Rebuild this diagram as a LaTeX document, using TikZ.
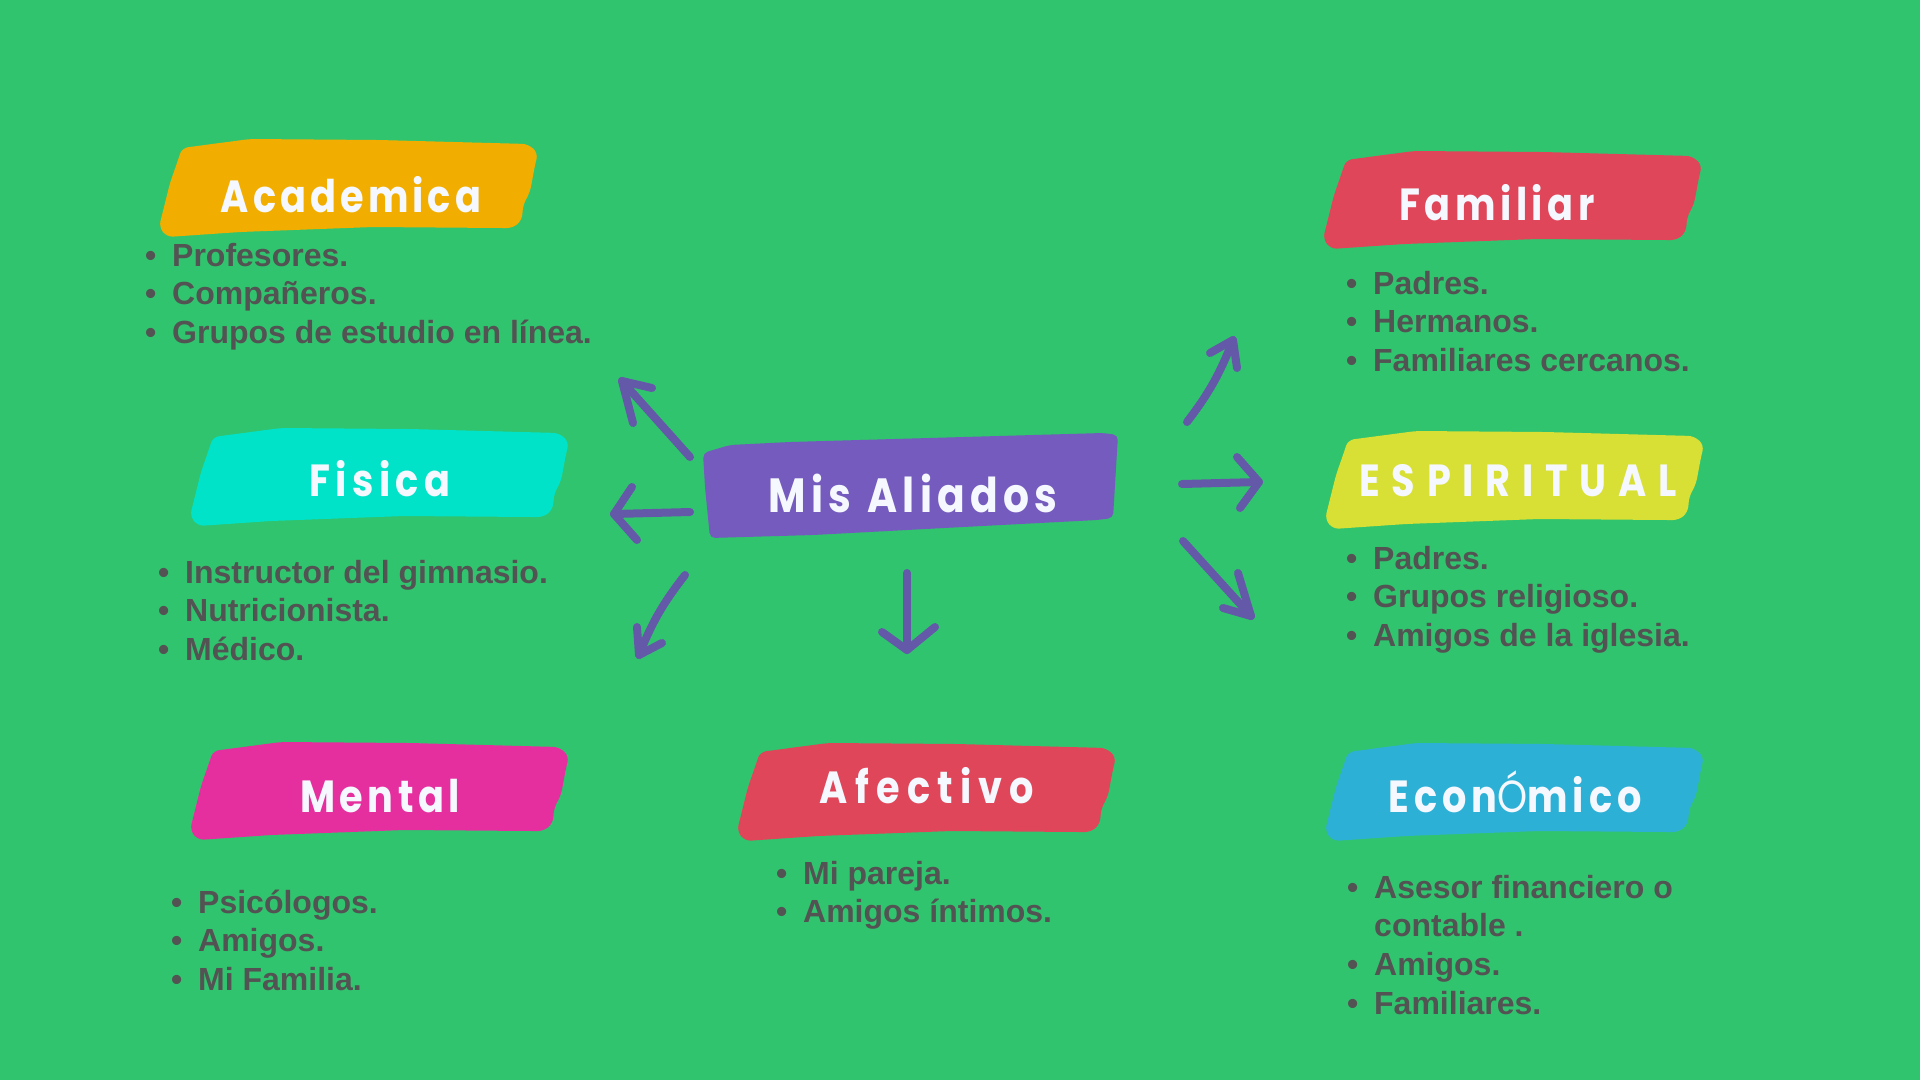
\documentclass[tikz,border=0pt]{standalone}
\usepackage{fontspec}
\setmainfont{Liberation Sans}
\newfontfamily\titlefont{Poppins}[FakeStretch=0.85]
\usetikzlibrary{calc}

\definecolor{bg}{RGB}{49,196,110}
\definecolor{acad}{RGB}{242,174,0}
\definecolor{fisi}{RGB}{0,227,200}
\definecolor{ment}{RGB}{229,47,158}
\definecolor{rojo}{RGB}{224,70,89}
\definecolor{espi}{RGB}{216,223,53}
\definecolor{econ}{RGB}{45,176,214}
\definecolor{lila}{RGB}{116,91,189}
\definecolor{flecha}{RGB}{100,89,168}
\definecolor{gris}{RGB}{83,83,83}
\definecolor{blanco}{RGB}{245,248,254}

\newcommand\bul{\makebox[27pt][l]{•}}
\newcommand\spaced[2]{\addfontfeatures{LetterSpace=#1}#2}

\tikzset{
  pics/brush/.style={code={
    \fill[#1, rounded corners=6pt]
      (23,10) -- (91,1) -- (220,2) -- (369,6) -- (379,15) -- (376,27)
      -- (371,54) -- (364,67) -- (363,82) -- (354,90) -- (341,90)
      -- (214,89) -- (81,94) -- (8,99) -- (0,89) -- (11,45) -- (18,25) -- cycle;
  }},
  title/.style={font=\titlefont\bfseries\fontsize{45}{50}\selectfont,
    text=blanco, anchor=base, inner sep=0pt},
  list/.style={font=\bfseries\fontsize{32}{38.7}\selectfont,
    text=gris, anchor=base west, inner sep=0pt},
  arr/.style={draw=flecha, line width=8pt, line cap=round, line join=round},
}

\begin{document}
\begin{tikzpicture}[x=1pt, y=-1pt]
  % background
  \fill[bg] (0,0) rectangle (1920,1080);
  \useasboundingbox (0,0) rectangle (1920,1080);

  % brush strokes behind the titles
  \pic at (159,138) {brush=acad};
  \pic at (190,427) {brush=fisi};
  \pic at (190,741) {brush=ment};
  \pic at (737,742) {brush=rojo};
  \pic at (1323,150) {brush=rojo};
  \pic at (1325,430) {brush=espi};
  \pic at (1325,742) {brush=econ};
  \fill[lila, rounded corners=5pt]
    (703,453) -- (730,445) -- (790,442) -- (1103,433) -- (1118,435)
    -- (1113,518) -- (1097,520) -- (963,527) -- (813,535) -- (710,538)
    -- (705,487) -- cycle;

  % titles
  \node[title] (centro) at (913,512) {\fontsize{48}{52}\selectfont\spaced{11}{Mis\hspace{16pt}Aliados}};
  \node[title] (academica) at (351,212) {\spaced{9}{Academica}};
  \node[title] (fisica) at (380,496) {\spaced{12}{Fisica}};
  \node[title] (mental) at (380,812) {\spaced{10}{Mental}};
  \node[title] (afectivo) at (927,803) {\spaced{16}{Afectivo}};
  \node[title] (familiar) at (1497,220) {\spaced{10}{Familiar}};
  \node[title] (espiritual) at (1518,496) {\spaced{26}{ESPIRITUAL}};
  \node[title] (economico) at (1515,812) {\spaced{11}{Econ{\mdseries Ó}mico}};

  % lists
  \node[list] (l-acad) at (145,266) {\begin{tabular}[t]{@{}l@{}}
    \bul Profesores.\\ \bul Compañeros.\\ \bul Grupos de estudio en línea.\end{tabular}};
  \node[list] (l-fisi) at (158,583) {\begin{tabular}[t]{@{}l@{}}
    \bul Instructor del gimnasio.\\ \bul Nutricionista.\\ \bul Médico.\end{tabular}};
  \node[list] (l-ment) at (171,913) {\begin{tabular}[t]{@{}l@{}}
    \bul Psicólogos.\\ \bul Amigos.\\ \bul Mi Familia.\end{tabular}};
  \node[list] (l-afec) at (776,884) {\begin{tabular}[t]{@{}l@{}}
    \bul Mi pareja.\\ \bul Amigos íntimos.\end{tabular}};
  \node[list] (l-fami) at (1346,294) {\begin{tabular}[t]{@{}l@{}}
    \bul Padres.\\ \bul Hermanos.\\ \bul Familiares cercanos.\end{tabular}};
  \node[list] (l-espi) at (1346,569) {\begin{tabular}[t]{@{}l@{}}
    \bul Padres.\\ \bul Grupos religioso.\\ \bul Amigos de la iglesia.\end{tabular}};
  \node[list] (l-econ) at (1347,898) {\begin{tabular}[t]{@{}l@{}}
    \bul Asesor financiero o\\ \hspace{27pt}contable .\\ \bul Amigos.\\ \bul Familiares.\end{tabular}};

  % arrow end points
  \coordinate (ul-t) at (690,457);  \coordinate (ul-h) at (622,381);
  \coordinate (ul-a) at (633,423);  \coordinate (ul-b) at (652,388);
  \coordinate (l-t)  at (690,512);  \coordinate (l-h)  at (614,514);
  \coordinate (l-a)  at (632,487);  \coordinate (l-b)  at (637,540);
  \coordinate (dl-t) at (685,575);  \coordinate (dl-h) at (639,655);
  \coordinate (dl-a) at (637,627);  \coordinate (dl-b) at (662,643);
  \coordinate (d-t)  at (907,573);  \coordinate (d-h)  at (907,650);
  \coordinate (d-a)  at (882,632);  \coordinate (d-b)  at (935,627);
  \coordinate (ur-t) at (1187,422); \coordinate (ur-h) at (1233,340);
  \coordinate (ur-a) at (1210,353); \coordinate (ur-b) at (1237,368);
  \coordinate (r-t)  at (1182,484); \coordinate (r-h)  at (1259,482);
  \coordinate (r-a)  at (1237,457); \coordinate (r-b)  at (1240,508);
  \coordinate (dr-t) at (1183,541); \coordinate (dr-h) at (1251,616);
  \coordinate (dr-a) at (1223,608); \coordinate (dr-b) at (1238,573);

  % arrows
  \draw[arr] (ul-t) -- (ul-h);  \draw[arr] (ul-a) -- (ul-h) -- (ul-b);
  \draw[arr] (l-t) -- (l-h);    \draw[arr] (l-a) -- (l-h) -- (l-b);
  \draw[arr] (dl-t) to[bend right=8] (dl-h); \draw[arr] (dl-a) -- (dl-h) -- (dl-b);
  \draw[arr] (d-t) -- (d-h);    \draw[arr] (d-a) -- (d-h) -- (d-b);
  \draw[arr] (ur-t) to[bend right=8] (ur-h); \draw[arr] (ur-a) -- (ur-h) -- (ur-b);
  \draw[arr] (r-t) -- (r-h);    \draw[arr] (r-a) -- (r-h) -- (r-b);
  \draw[arr] (dr-t) -- (dr-h);  \draw[arr] (dr-a) -- (dr-h) -- (dr-b);
\end{tikzpicture}
\end{document}
